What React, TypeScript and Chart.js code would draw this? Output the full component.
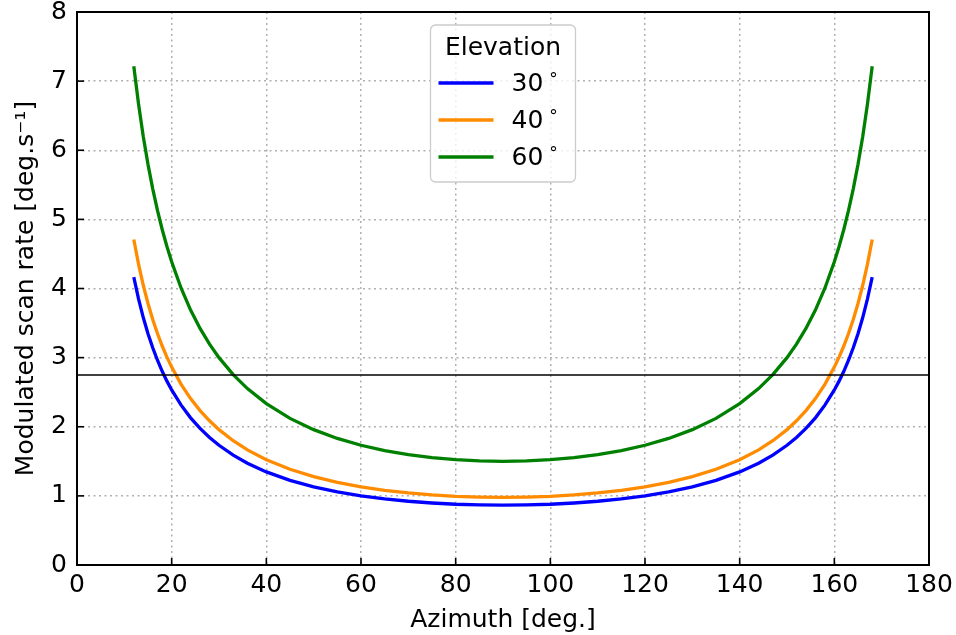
import React, { useEffect, useRef } from "react";
import { Chart, registerables } from "chart.js";

Chart.register(...registerables);

// Azimuth angles (deg.) at which the modulated scan rate is sampled
const azimuth = [
  12, 13, 14, 15, 16, 17, 18, 19, 20, 22, 24, 26, 28, 30, 33, 36, 40, 45, 50, 55, 60, 65, 70, 75, 80, 85, 90,
  95, 100, 105, 110, 115, 120, 125, 130, 135, 140, 144, 147, 150, 152, 154, 156, 158, 160, 161, 162, 163, 164,
  165, 166, 167, 168,
];

// Elevation 30°
const rate30 = [
  4.165, 3.85, 3.58, 3.346, 3.142, 2.962, 2.802, 2.66, 2.532, 2.312, 2.129, 1.976, 1.845, 1.732, 1.59, 1.473,
  1.347, 1.225, 1.13, 1.057, 1.0, 0.956, 0.922, 0.897, 0.879, 0.869, 0.866,
  0.869, 0.879, 0.897, 0.922, 0.956, 1.0, 1.057, 1.13, 1.225, 1.347, 1.473, 1.59, 1.732, 1.845, 1.976, 2.129,
  2.312, 2.532, 2.66, 2.802, 2.962, 3.142, 3.346, 3.58, 3.85, 4.165,
];

// Elevation 40°
const rate40 = [
  4.709, 4.352, 4.047, 3.783, 3.552, 3.349, 3.168, 3.007, 2.863, 2.614, 2.407, 2.234, 2.086, 1.958, 1.798, 1.666,
  1.523, 1.385, 1.278, 1.195, 1.131, 1.08, 1.042, 1.014, 0.994, 0.983, 0.979,
  0.983, 0.994, 1.014, 1.042, 1.08, 1.131, 1.195, 1.278, 1.385, 1.523, 1.666, 1.798, 1.958, 2.086, 2.234, 2.407,
  2.614, 2.863, 3.007, 3.168, 3.349, 3.552, 3.783, 4.047, 4.352, 4.709,
];

// Elevation 60°
const rate60 = [
  7.215, 6.668, 6.2, 5.796, 5.442, 5.13, 4.854, 4.607, 4.386, 4.004, 3.688, 3.422, 3.195, 3.0, 2.754, 2.552,
  2.334, 2.121, 1.958, 1.831, 1.732, 1.655, 1.596, 1.553, 1.523, 1.506, 1.5,
  1.506, 1.523, 1.553, 1.596, 1.655, 1.732, 1.831, 1.958, 2.121, 2.334, 2.552, 2.754, 3.0, 3.195, 3.422, 3.688,
  4.004, 4.386, 4.607, 4.854, 5.13, 5.442, 5.796, 6.2, 6.668, 7.215,
];

const elevationLabels = ["30", "40", "60"];
const seriesColors = ["#0000ff", "#ff8c00", "#008000"];
const legendTitle = "Elevation";
const thresholdValue = 2.75;
const thresholdRange = [0, 180];

const FAMILY = "'DejaVu Sans', 'Liberation Sans', sans-serif";
const FONT_SIZE = 25;

const decorPlugin = {
  id: "decor",
  afterDatasetsDraw(chart: any) {
    const { ctx, chartArea: a, scales } = chart;
    ctx.save();
    ctx.strokeStyle = "#000";
    ctx.lineWidth = 1.6;
    scales.x.ticks.forEach((t: any) => {
      const px = scales.x.getPixelForValue(t.value);
      ctx.beginPath();
      ctx.moveTo(px, a.bottom);
      ctx.lineTo(px, a.bottom - 7);
      ctx.stroke();
    });
    scales.y.ticks.forEach((t: any) => {
      const py = scales.y.getPixelForValue(t.value);
      ctx.beginPath();
      ctx.moveTo(a.left, py);
      ctx.lineTo(a.left + 7, py);
      ctx.stroke();
    });
    ctx.lineWidth = 2;
    ctx.strokeRect(a.left, a.top, a.right - a.left, a.bottom - a.top);
    ctx.restore();
  },
  afterDraw(chart: any) {
    const { ctx, chartArea: a } = chart;
    const w = 145;
    const h = 157;
    const cx = (a.left + a.right) / 2;
    const x0 = cx - w / 2;
    const y0 = a.top + 13;
    ctx.save();
    ctx.beginPath();
    if ((ctx as any).roundRect) {
      (ctx as any).roundRect(x0, y0, w, h, 5);
    } else {
      ctx.rect(x0, y0, w, h);
    }
    ctx.fillStyle = "rgba(255,255,255,0.8)";
    ctx.fill();
    ctx.strokeStyle = "#cccccc";
    ctx.lineWidth = 1.3;
    ctx.stroke();

    ctx.fillStyle = "#000";
    ctx.textBaseline = "alphabetic";
    ctx.textAlign = "center";
    ctx.font = `${FONT_SIZE}px ${FAMILY}`;
    ctx.fillText(legendTitle, cx, y0 + 30);

    elevationLabels.forEach((lab, i) => {
      const ly = y0 + 58 + i * 37;
      ctx.strokeStyle = seriesColors[i];
      ctx.lineWidth = 3.3;
      ctx.beginPath();
      ctx.moveTo(x0 + 8, ly);
      ctx.lineTo(x0 + 63, ly);
      ctx.stroke();
      ctx.textAlign = "left";
      ctx.font = `${FONT_SIZE}px ${FAMILY}`;
      const tx = x0 + 81;
      ctx.fillText(lab, tx, ly + 8);
      const tw = ctx.measureText(lab).width;
      ctx.font = `17px ${FAMILY}`;
      ctx.fillText("°", tx + tw + 6, ly + 2);
    });
    ctx.restore();
  },
};

export default function App() {
  const canvasRef = useRef<HTMLCanvasElement | null>(null);

  useEffect(() => {
    const canvas = canvasRef.current;
    if (!canvas) return;
    const rates = [rate30, rate40, rate60];
    const font = { family: FAMILY, size: FONT_SIZE };
    const datasets: any[] = rates.map((r, i) => ({
      label: elevationLabels[i],
      data: azimuth.map((x, j) => ({ x, y: r[j] })),
      borderColor: seriesColors[i],
      backgroundColor: seriesColors[i],
      borderWidth: 3.3,
      pointRadius: 0,
      tension: 0,
      fill: false,
      order: 3 - i,
    }));
    datasets.push({
      label: "threshold",
      data: thresholdRange.map((x) => ({ x, y: thresholdValue })),
      borderColor: "#000000",
      borderWidth: 1.5,
      pointRadius: 0,
      fill: false,
      order: 0,
    });

    const chart = new Chart(canvas, {
      type: "line",
      data: { datasets },
      options: {
        responsive: false,
        animation: false,
        layout: { padding: { top: 12, right: 27, left: 0, bottom: 0 } },
        plugins: { legend: { display: false }, tooltip: { enabled: false } },
        scales: {
          x: {
            type: "linear",
            min: 0,
            max: 180,
            ticks: { stepSize: 20, font, color: "#000", padding: 5, autoSkip: false, maxRotation: 0 },
            grid: { color: "#b0b0b0", lineWidth: 1.5, drawTicks: false },
            border: { display: false, dash: [2, 3.5] },
            title: {
              display: true,
              text: "Azimuth [deg.]",
              font,
              color: "#000",
              padding: { top: 0, bottom: 0 },
            },
            afterFit: (s: any) => {
              s.height = 70;
              s.paddingLeft = 0;
              s.paddingRight = 0;
            },
          },
          y: {
            type: "linear",
            min: 0,
            max: 8,
            ticks: { stepSize: 1, font, color: "#000", padding: 10 },
            grid: { color: "#b0b0b0", lineWidth: 1.5, drawTicks: false },
            border: { display: false, dash: [2, 3.5] },
            title: {
              display: true,
              text: "Modulated scan rate [deg.s⁻¹]",
              font,
              color: "#000",
              padding: { top: 11, bottom: 0 },
            },
            afterFit: (s: any) => {
              s.width = 77;
              s.paddingTop = 0;
              s.paddingBottom = 0;
            },
          },
        },
      },
      plugins: [decorPlugin],
    });
    return () => chart.destroy();
  }, []);

  return (
    <div style={{ position: "absolute", left: 0, top: 0, width: 956, height: 635, background: "#fff" }}>
      <canvas ref={canvasRef} width={956} height={635} style={{ display: "block" }} />
    </div>
  );
}
